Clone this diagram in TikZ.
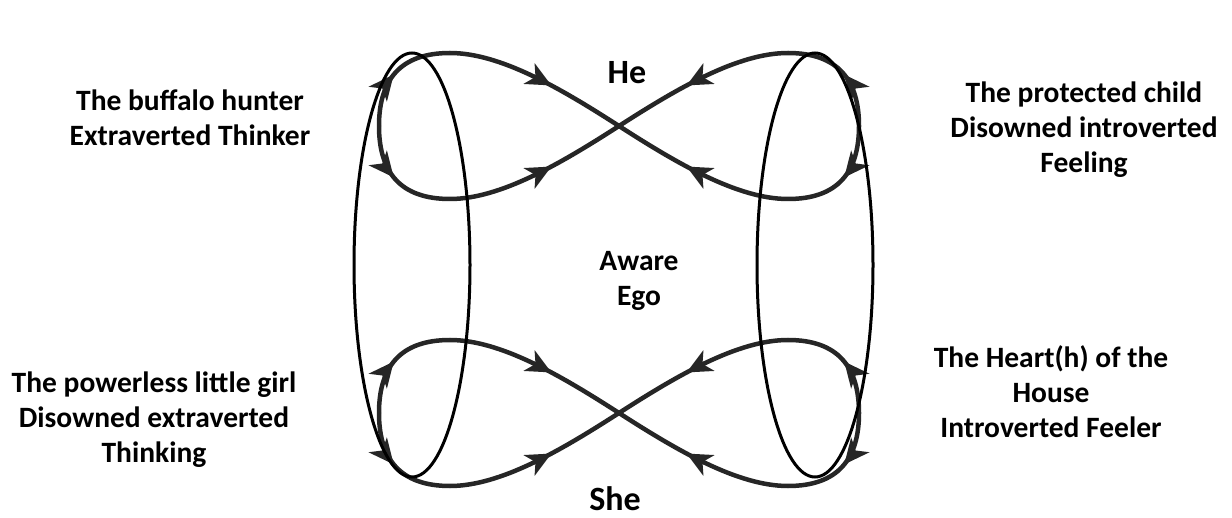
\documentclass[tikz,border=0pt]{standalone}
\usepackage{fontspec}
\setmainfont{Carlito}
\usetikzlibrary{arrows.meta,decorations.markings}
\tikzset{
  lbl/.style={align=center,font=\fontsize{29.5}{35}\selectfont\bfseries},
  sexlbl/.style={inner sep=0pt,anchor=base,font=\fontsize{34}{38}\selectfont\bfseries},
  ring/.style={line width=3pt},
  flow/.tip={Stealth[length=25pt,width=23pt,inset=7pt]},
  branch/.style={line width=4.5pt,draw=black!85,postaction={decorate},
    decoration={markings,
      mark=at position .18 with {\arrow{flow}},
      mark=at position .74 with {\arrow{flow}}}},
}
\begin{document}
\begin{tikzpicture}[x=1pt,y=-1pt]
 \useasboundingbox (0,0) rectangle (1232,518);
 \coordinate (hex) at (619,126);
 \coordinate (shex) at (619,413);
 % the two figure eights, each made of four mirrored branches
 \foreach \c in {hex,shex}
  \foreach \s in {1,-1}
   \foreach \t in {1,-1}
    \draw[branch,shift={(\c)},xscale=\s,yscale=\t]
     (-240,0) .. controls (-240,-46) and (-219,-73) .. (-169,-73)
     .. controls (-119,-73) and (-59,-38) .. (0,0);
 \draw[ring] (412,265) ellipse [x radius=58,y radius=212];
 \draw[ring] (815,265) ellipse [x radius=58,y radius=212];
 \node[sexlbl] (he) at (627,84) {He};
 \node[sexlbl] (she) at (615,510) {She};
 \node[lbl] (ego) at (639,281) {Aware\\Ego};
 \node[lbl] (hunter) at (190,118) {The buffalo hunter\\Extraverted Thinker};
 \node[lbl] (child) at (1084,130) {The protected child\\Disowned introverted\\Feeling};
 \node[lbl] (girl) at (154,420) {The powerless little girl\\Disowned extraverted\\Thinking};
 \node[lbl] (hearth) at (1051,392) {The Heart(h) of the\\House\\Introverted Feeler};
\end{tikzpicture}
\end{document}
